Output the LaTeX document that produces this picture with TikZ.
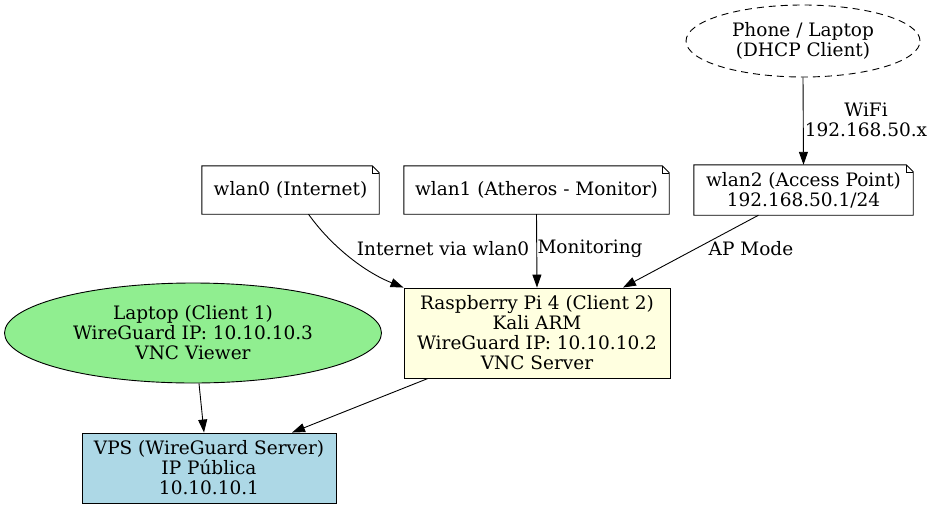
\documentclass[tikz,border=0pt]{standalone}
\usepackage{fontspec}
\setmainfont{DejaVu Serif}
\usetikzlibrary{arrows.meta,shapes.geometric}
\definecolor{lgreen}{HTML}{90EE90}
\definecolor{lblue}{HTML}{ADD8E6}
\definecolor{lyellow}{HTML}{FFFFE0}
\tikzset{
  txt/.style={font=\fontsize{18.5}{20}\selectfont, align=center, inner sep=0pt},
  notebox/.style={txt},
  plainbox/.style={txt, draw, line width=0.9pt},
  ell/.style={txt, ellipse, draw, line width=0.9pt},
  conn/.style={draw, line width=0.9pt, -{Triangle[length=13pt,width=9pt]}},
}
\newcommand\drawnote[1]{%
  \draw[line width=0.9pt] (#1.north west) -- ([xshift=-7pt]#1.north east) -- ([yshift=-7pt]#1.north east) -- (#1.south east) -- (#1.south west) -- cycle;
  \draw[line width=0.6pt] ([xshift=-7pt]#1.north east) -- ([xshift=-7pt,yshift=-7pt]#1.north east) -- ([yshift=-7pt]#1.north east);}
\begin{document}
\begin{tikzpicture}[x=1pt,y=-1pt]
\useasboundingbox (0,0) rectangle (934,509);
% nodes
\node[ell, dashed, dash pattern=on 7pt off 5pt, minimum width=234pt, minimum height=72pt] (phone) at (803,41) {Phone / Laptop\\(DHCP Client)};
\node[notebox, minimum width=177pt, minimum height=48pt] (wlan0) at (290.5,190) {wlan0 (Internet)};
\node[notebox, minimum width=265pt, minimum height=48pt] (wlan1) at (536.5,190) {wlan1 (Atheros - Monitor)};
\node[notebox, minimum width=219pt, minimum height=50pt] (wlan2) at (803.5,190) {wlan2 (Access Point)\\192.168.50.1/24};
\drawnote{wlan0}
\drawnote{wlan1}
\drawnote{wlan2}
\node[plainbox, fill=lyellow, minimum width=266pt, minimum height=90pt] (rpi) at (537,333) {Raspberry Pi 4 (Client 2)\\Kali ARM\\WireGuard IP: 10.10.10.2\\VNC Server};
\node[ell, fill=lgreen, minimum width=377pt, minimum height=100pt] (laptop) at (193,333) {Laptop (Client 1)\\WireGuard IP: 10.10.10.3\\VNC Viewer};
\node[plainbox, fill=lblue, minimum width=254pt, minimum height=70pt] (vps) at (209,468) {VPS (WireGuard Server)\\IP Pública\\10.10.10.1};
% edge labels
\node[txt] (lwifi) at (866,120) {WiFi\\192.168.50.x};
\node[txt] (linet) at (443,249) {Internet via wlan0};
\node[txt] (lmon) at (590,249) {Monitoring};
\node[txt] (lap) at (751,249) {AP Mode};
% connectors
\draw[conn] (phone.south) -- (wlan2.north);
\draw[conn] ([xshift=18pt]wlan0.south) .. controls +(22,31) and +(-40,-16) .. (rpi.north west);
\draw[conn] (wlan1.south) -- (rpi.north);
\draw[conn] ([xshift=-45pt]wlan2.south) -- ([xshift=86pt]rpi.north);
\draw[conn] ([xshift=6pt]laptop.south) -- ([xshift=-5pt]vps.north);
\draw[conn] ([xshift=-109pt]rpi.south) -- ([xshift=83pt]vps.north);
\end{tikzpicture}
\end{document}
